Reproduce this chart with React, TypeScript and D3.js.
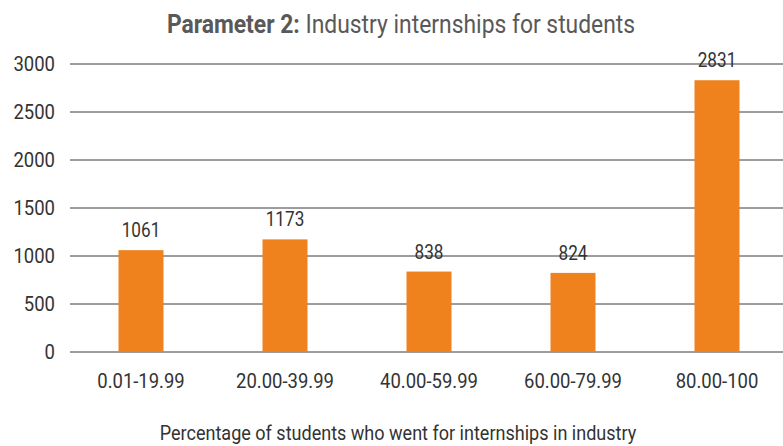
import React from "react";
import * as d3 from "d3";

const categories = ["0.01-19.99", "20.00-39.99", "40.00-59.99", "60.00-79.99", "80.00-100"];
const values = [1061, 1173, 838, 824, 2831];
const yTicks = [0, 500, 1000, 1500, 2000, 2500, 3000];

const W = 783;
const H = 446;
const FONT = "Roboto, 'Liberation Sans', sans-serif";
const SX = 0.88;

function T({ x, y, size, fill = "#333", anchor = "middle", children }: any) {
  return (
    <text
      transform={`translate(${x},${y}) scale(${SX},1)`}
      textAnchor={anchor}
      fontSize={size}
      fill={fill}
    >
      {children}
    </text>
  );
}

export default function App() {
  const x = d3.scaleBand<string>().domain(categories).range([69, 789]).paddingInner(0.6875).paddingOuter(0.34375);
  const y = d3.scaleLinear().domain([0, 3000]).range([352, 64]);

  return (
    <svg width={W} height={H} style={{ position: "absolute", left: 0, top: 0, background: "#fff" }} fontFamily={FONT}>
      <T x={401} y={33} size={26} fill="#595959">
        <tspan fontWeight="bold">Parameter 2:</tspan>
        <tspan> Industry internships for students</tspan>
      </T>
      {yTicks.map((t) => (
        <g key={t}>
          <line x1={70} x2={W} y1={y(t)} y2={y(t)} stroke="#3a3a3a" strokeWidth={1} />
          <T x={55} y={y(t) + 7} size={21} anchor="end">
            {t}
          </T>
        </g>
      ))}
      {categories.map((c, i) => {
        const bx = x(c)!;
        const bw = x.bandwidth();
        return (
          <g key={c}>
            <rect x={bx} y={y(values[i])} width={bw} height={y(0) - y(values[i])} fill="#F0821E" />
            <T x={bx + bw / 2} y={y(values[i]) - 13} size={19.5}>
              {values[i]}
            </T>
            <T x={bx + bw / 2} y={388} size={21}>
              {c}
            </T>
          </g>
        );
      })}
      <T x={398} y={440} size={20.5}>
        Percentage of students who went for internships in industry
      </T>
    </svg>
  );
}
